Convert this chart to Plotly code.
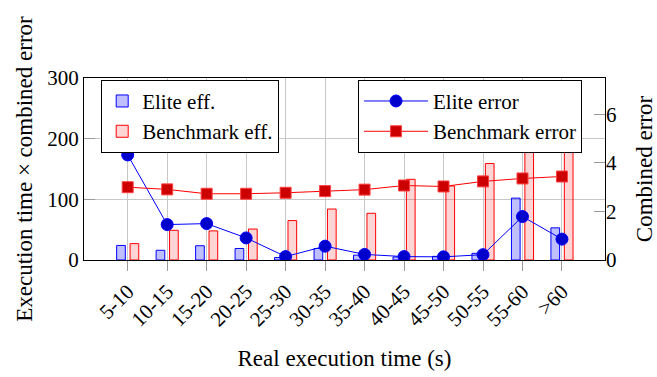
import plotly.graph_objects as go

# Execution-time bins
categories = ["5-10", "10-15", "15-20", "20-25", "25-30", "30-35",
              "35-40", "40-45", "45-50", "50-55", "55-60", ">60"]

# Execution time x combined error (left axis)
elite_eff = [24, 16, 23.5, 19, 4, 19, 8, 5, 6, 11, 102, 53]
benchmark_eff = [27, 49, 48, 51, 65, 84, 77, 133, 122, 159, 200, 215]

# Combined error (right axis)
elite_error = [4.33, 1.46, 1.5, 0.91, 0.14, 0.57, 0.23, 0.14, 0.13, 0.22, 1.79, 0.86]
benchmark_error = [3.0, 2.91, 2.73, 2.73, 2.77, 2.84, 2.9, 3.07, 3.03, 3.24, 3.36, 3.44]

FONT = "Liberation Serif"
GRID = "#c8c8c8"
TICK = "#9a9a9a"
TITLE_SIZE = 23
TICK_SIZE = 21
LEGEND_SIZE = 21

fig = go.Figure()

fig.add_trace(go.Bar(
    x=categories, y=elite_eff, name="Elite eff.",
    width=0.22, offset=-0.28,
    marker=dict(color="rgba(0,0,255,0.25)", line=dict(color="blue", width=1)),
    legend="legend", yaxis="y",
))
fig.add_trace(go.Bar(
    x=categories, y=benchmark_eff, name="Benchmark eff.",
    width=0.22, offset=0.06,
    marker=dict(color="rgba(255,0,0,0.17)", line=dict(color="red", width=1)),
    legend="legend", yaxis="y",
))
fig.add_trace(go.Scatter(
    x=categories, y=elite_error, name="Elite error", mode="lines+markers",
    line=dict(color="blue", width=1),
    marker=dict(symbol="circle", size=12, color="#0000cc",
                line=dict(color="#0000ff", width=1)),
    legend="legend2", yaxis="y2",
))
fig.add_trace(go.Scatter(
    x=categories, y=benchmark_error, name="Benchmark error", mode="lines+markers",
    line=dict(color="red", width=1),
    marker=dict(symbol="square", size=11, color="#cc0000",
                line=dict(color="#ff4040", width=1)),
    legend="legend2", yaxis="y2",
))

fig.update_layout(
    width=657, height=377,
    margin=dict(l=84, r=52, t=78, b=117),
    paper_bgcolor="white", plot_bgcolor="white",
    font=dict(family=FONT, size=TICK_SIZE, color="black"),
    barmode="overlay",
    xaxis=dict(
        type="category", range=[-1.107, 12.09], automargin=False,
        showgrid=True, gridcolor=GRID, gridwidth=1,
        ticks="outside", ticklen=10, tickcolor=TICK, tickwidth=1,
        tickangle=-45, tickfont=dict(size=TICK_SIZE),
        showline=True, linecolor="black", linewidth=1, mirror=True,
        title=dict(text="Real execution time (s)", standoff=19,
                   font=dict(size=TITLE_SIZE)),
        zeroline=False,
    ),
    yaxis=dict(
        range=[0, 300], tickvals=[0, 100, 200, 300], automargin=False,
        showgrid=True, gridcolor=GRID, gridwidth=1,
        ticks="inside", ticklen=11, tickcolor=TICK, tickwidth=1,
        showline=True, linecolor="black", linewidth=1, mirror=True,
        zeroline=False, tickfont=dict(size=TICK_SIZE),
        title=dict(text="Execution time × combined error", standoff=8,
                   font=dict(size=TITLE_SIZE)),
    ),
    yaxis2=dict(
        overlaying="y", side="right", automargin=False,
        range=[0, 7.5], tickvals=[0, 2, 4, 6],
        showgrid=False,
        ticks="inside", ticklen=11, tickcolor=TICK, tickwidth=1,
        showline=False, zeroline=False, tickfont=dict(size=TICK_SIZE),
        title=dict(text="Combined error", standoff=31,
                   font=dict(size=TITLE_SIZE)),
    ),
    legend=dict(
        x=0.033, y=0.99, xanchor="left", yanchor="top",
        bgcolor="white", bordercolor="black", borderwidth=1,
        font=dict(family=FONT, size=LEGEND_SIZE), tracegroupgap=0,
        itemwidth=30,
    ),
    legend2=dict(
        x=0.526, y=0.99, xanchor="left", yanchor="top",
        bgcolor="white", bordercolor="black", borderwidth=1,
        font=dict(family=FONT, size=LEGEND_SIZE), tracegroupgap=0,
        itemwidth=64,
    ),
    showlegend=True,
)

fig.write_html("out.html")
